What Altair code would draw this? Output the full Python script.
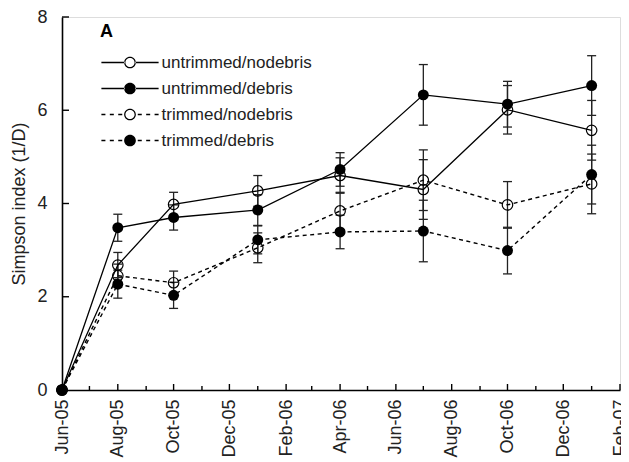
import altair as alt
import pandas as pd

# ---- data ----
dates = ["2005-06-01", "2005-08-01", "2005-10-01", "2006-01-01",
         "2006-04-01", "2006-07-01", "2006-10-01", "2007-01-01"]
series_names = ["untrimmed/nodebris", "untrimmed/debris", "trimmed/nodebris", "trimmed/debris"]

untrimmed_nodebris = [0, 2.68, 3.98, 4.27, 4.60, 4.30, 6.01, 5.57]
untrimmed_nodebris_err = [0, 0.27, 0.26, 0.33, 0.38, 0.64, 0.52, 0.64]
untrimmed_debris = [0, 3.48, 3.70, 3.86, 4.73, 6.33, 6.13, 6.53]
untrimmed_debris_err = [0, 0.29, 0.27, 0.33, 0.36, 0.65, 0.49, 0.64]
trimmed_nodebris = [0, 2.45, 2.30, 3.05, 3.84, 4.50, 3.97, 4.42]
trimmed_nodebris_err = [0, 0.25, 0.25, 0.32, 0.40, 0.65, 0.50, 0.64]
trimmed_debris = [0, 2.27, 2.03, 3.22, 3.39, 3.41, 2.99, 4.62]
trimmed_debris_err = [0, 0.30, 0.28, 0.30, 0.36, 0.66, 0.50, 0.63]

y_tick_values = [0, 2, 4, 6, 8]
major_months = ["2005-06-01", "2005-08-01", "2005-10-01", "2005-12-01", "2006-02-01",
                "2006-04-01", "2006-06-01", "2006-08-01", "2006-10-01", "2006-12-01", "2007-02-01"]
minor_months = ["2005-07-01", "2005-09-01", "2005-11-01", "2006-01-01", "2006-03-01",
                "2006-05-01", "2006-07-01", "2006-09-01", "2006-11-01", "2007-01-01"]

values = [untrimmed_nodebris, untrimmed_debris, trimmed_nodebris, trimmed_debris]
errors = [untrimmed_nodebris_err, untrimmed_debris_err, trimmed_nodebris_err, trimmed_debris_err]
open_marker = [True, False, True, False]
dashed_line_flag = [False, False, True, True]

rows = []
for name, vals, errs, op, ds in zip(series_names, values, errors, open_marker, dashed_line_flag):
    for d, v, e in zip(dates, vals, errs):
        rows.append({"date": d + "T00:00:00", "series": name, "value": v,
                     "lo": v - e, "hi": v + e, "err": e, "open": op, "dashed": ds})
df = pd.DataFrame(rows)

def dt(s):
    y, m, _ = s.split("-")
    return alt.DateTime(year=int(y), month=int(m), date=1)

FONT = "Liberation Sans"
W, H = 558, 373

x_axis = alt.Axis(values=[dt(m) for m in major_months], format="%b-%y", labelAngle=270,
                  labelAlign="right", labelBaseline="middle", labelPadding=9, ticks=False,
                  labelFlush=False, labelOverlap=False, grid=False, title=None,
                  domainColor="black", domainWidth=1.6, labelFont=FONT, labelFontSize=18,
                  labelColor="#222")
x_scale = alt.Scale(domain=[dt(major_months[0]), dt(major_months[-1])])
y_axis = alt.Axis(values=y_tick_values, ticks=False, grid=False, labelPadding=15,
                  title="Simpson index (1/D)", titleFont=FONT, titleFontSize=18,
                  titleFontWeight="normal", titleColor="#222", titlePadding=8,
                  domainColor="black", domainWidth=1.6, labelFont=FONT, labelFontSize=18,
                  labelColor="#222")
y_scale = alt.Scale(domain=[0, 8], nice=False)

def X(field):
    return alt.X(field, type="temporal", scale=x_scale, axis=x_axis)

def Y(field):
    return alt.Y(field, type="quantitative", scale=y_scale, axis=y_axis)

base = alt.Chart(df)

minor_df = pd.DataFrame({"d": [m + "T00:00:00" for m in minor_months]})
major_df = pd.DataFrame({"d": [m + "T00:00:00" for m in major_months]})
ytick_df = pd.DataFrame({"v": y_tick_values[1:]})

minor_ticks = alt.Chart(minor_df).mark_rule(color="black", strokeWidth=1.4).encode(
    x=X("d"), y=alt.value(H), y2=alt.value(H - 4))
major_ticks = alt.Chart(major_df).mark_rule(color="black", strokeWidth=1.4).encode(
    x=X("d"), y=alt.value(H), y2=alt.value(H - 6))
y_ticks = alt.Chart(ytick_df).mark_rule(color="black", strokeWidth=1.4).encode(
    y=Y("v"), x=alt.value(0), x2=alt.value(7))

eb = base.transform_filter("datum.err > 0")
err_rule = eb.mark_rule(color="#222", strokeWidth=1.3).encode(x=X("date"), y=Y("lo"), y2="hi")
cap_lo = eb.mark_tick(orient="horizontal", size=9, thickness=1.3, color="#222", opacity=1).encode(
    x=X("date"), y=Y("lo"))
cap_hi = eb.mark_tick(orient="horizontal", size=9, thickness=1.3, color="#222", opacity=1).encode(
    x=X("date"), y=Y("hi"))

solid_lines = base.transform_filter("!datum.dashed").mark_line(
    color="black", strokeWidth=1.3).encode(x=X("date"), y=Y("value"), detail="series:N")
dashed_lines = base.transform_filter("datum.dashed").mark_line(
    color="black", strokeWidth=1.4, strokeDash=[4, 3.5]).encode(
    x=X("date"), y=Y("value"), detail="series:N")

open_pts = base.transform_filter("datum.open").mark_point(
    shape="circle", filled=False, color="black", strokeWidth=1.2, size=110, opacity=1).encode(
    x=X("date"), y=Y("value"))
filled_pts = base.transform_filter("!datum.open").mark_point(
    shape="circle", filled=True, color="black", size=120, opacity=1).encode(
    x=X("date"), y=Y("value"))

# legend symbols drawn as filled shapes (units of 5.5 px, symbol size 121)
t = 0.115  # half line thickness
def circle(rad, sweep):
    return (f"M{-rad:.3f},0A{rad:.3f},{rad:.3f},0,1,{sweep},{rad:.3f},0"
            f"A{rad:.3f},{rad:.3f},0,1,{sweep},{-rad:.3f},0Z")
def seg(a, b):
    return f"M{a:.3f},{-t:.3f}H{b:.3f}V{t:.3f}H{a:.3f}Z"

r = 0.95
full_circ = circle(r + t, 0)
open_circ = circle(r + t, 0) + circle(r - t, 1)
solid_line = seg(-5.2, -r) + seg(r, 5.2)
dash_spans = [(-5.2, -4.47), (-3.67, -2.94), (-2.14, -1.41),
              (1.41, 2.14), (2.94, 3.67), (4.47, 5.2)]
dashed_line = "".join(seg(a, b) for a, b in dash_spans)
legend_paths = [solid_line + open_circ, solid_line + full_circ,
                dashed_line + open_circ, dashed_line + full_circ]

legend = alt.Legend(title=None, orient="none", legendX=59.5, legendY=37, rowPadding=8,
                    labelOffset=23, padding=0, symbolSize=121,
                    symbolFillColor="black", symbolStrokeWidth=0,
                    symbolOpacity=1, labelFont=FONT, labelFontSize=17, labelColor="#222")
legend_layer = base.transform_filter("false").mark_point(
    filled=True, color="black", size=121, opacity=1).encode(
    x=X("date"), y=Y("value"),
    shape=alt.Shape("series:N", scale=alt.Scale(domain=series_names, range=legend_paths),
                    legend=legend))

label_a = alt.Chart(pd.DataFrame({"t": ["A"]})).mark_text(
    align="left", baseline="alphabetic", fontSize=18, fontWeight="bold", font=FONT,
    color="black").encode(text="t:N", x=alt.value(38), y=alt.value(20))

chart = alt.layer(minor_ticks, major_ticks, y_ticks, err_rule, cap_lo, cap_hi,
                  solid_lines, dashed_lines, open_pts, filled_pts, legend_layer,
                  label_a).properties(
    width=W, height=H,
    autosize=alt.AutoSizeParams(type="none"),
    padding={"left": 54, "top": 9, "right": 1, "bottom": 72},
).configure_view(stroke=None).configure(background="white")

chart.save("out.html", embed_options={"renderer": "svg", "actions": False})
